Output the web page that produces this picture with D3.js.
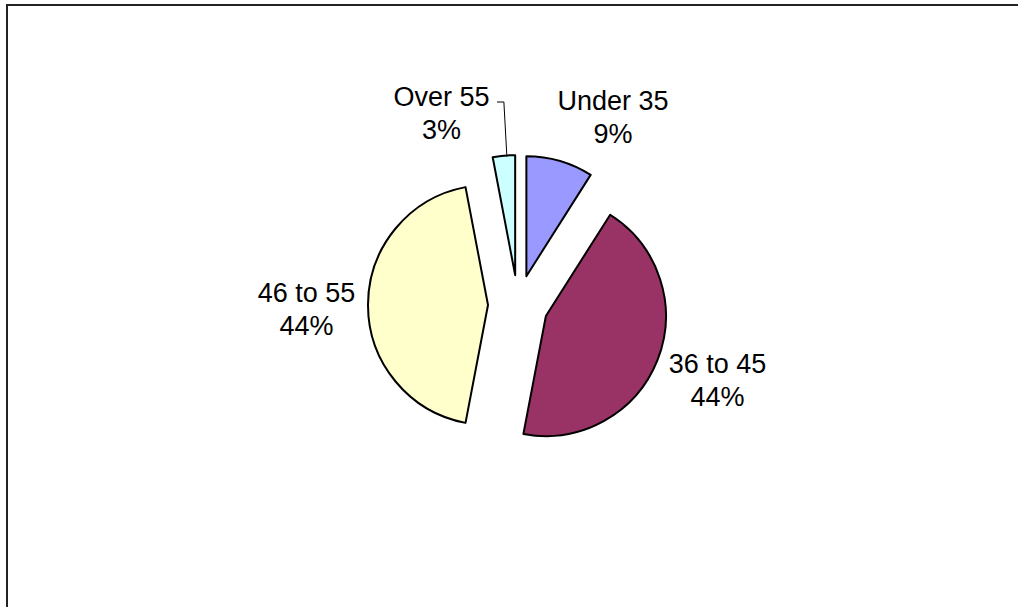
<html>

<head>
    <script src="https://d3js.org/d3.v7.min.js"></script>
    <style>
        body { margin: 0; background: white; }
        text { font-family: "Liberation Sans", Arial, sans-serif; font-size: 27px; fill: black; }
    </style>
</head>

<body>
    <svg id="svg" width="1018" height="607"></svg>
    <script>
        // data
        const categories = ["Under 35", "36 to 45", "46 to 55", "Over 55"]
        const values = [9, 44, 44, 3]
        const percentLabels = ["9%", "44%", "44%", "3%"]
        const colors = ["#9999ff", "#993366", "#ffffcc", "#ccffff"]

        const svg = d3.select('#svg');
        const width = +svg.attr("width");
        const height = +svg.attr("height");

        // chart frame (only top and left edges are visible)
        svg.append("path")
            .attr("d", `M7,${height} V5 H${width}`)
            .style("fill", "none")
            .style("stroke", "#222")
            .style("stroke-width", 2);

        const cx = 518, cy = 305;
        const radius = 120;
        const explode = 30;

        const pie = d3.pie().sort(null).value(d => d.value);
        const arc = d3.arc().innerRadius(0).outerRadius(radius);
        const rows = categories.map((c, i) => ({ name: c, value: values[i], pct: percentLabels[i], color: colors[i] }));
        const arcs = pie(rows);

        const mid = a => (a.startAngle + a.endAngle) / 2;

        const chart = svg.append("g").attr("transform", `translate(${cx},${cy})`);

        chart.selectAll("path.slice").data(arcs)
            .join("path")
            .attr("class", "slice")
            .attr("d", arc)
            .attr("transform", a => `translate(${explode * Math.sin(mid(a))},${-explode * Math.cos(mid(a))})`)
            .style("fill", a => a.data.color)
            .style("stroke", "black")
            .style("stroke-width", 2)
            .style("stroke-linejoin", "round");

        // label placement (Excel puts them just outside the slices)
        const labelAt = {
            "Under 35": [95, -195],
            "36 to 45": [199.5, 68],
            "46 to 55": [-211.5, -3],
            "Over 55": [-76.5, -199]
        };

        const labels = chart.selectAll("text.label").data(arcs)
            .join("text")
            .attr("class", "label")
            .style("text-anchor", "middle")
            .attr("x", a => labelAt[a.data.name][0])
            .attr("y", a => labelAt[a.data.name][1]);

        labels.append("tspan")
            .attr("x", a => labelAt[a.data.name][0])
            .text(a => a.data.name);
        labels.append("tspan")
            .attr("x", a => labelAt[a.data.name][0])
            .attr("dy", 33)
            .text(a => a.data.pct);

        // leader line for the thin slice
        const thin = arcs[3];
        const ox = (radius + explode) * Math.sin(mid(thin));
        const oy = -(radius + explode) * Math.cos(mid(thin));
        chart.append("path")
            .attr("d", `M${ox + 3},${oy + 1} L${ox},-203 H-21`)
            .style("fill", "none")
            .style("stroke", "black")
            .style("stroke-width", 1);
    </script>
</body>

</html>
